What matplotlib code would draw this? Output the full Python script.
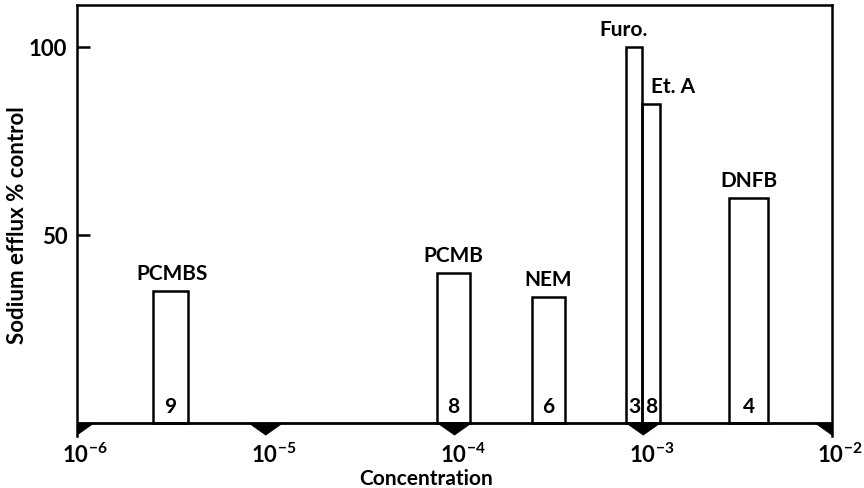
import numpy as np
import matplotlib
matplotlib.use("Agg")
import matplotlib.pyplot as plt
from matplotlib.patches import Polygon
from matplotlib.transforms import ScaledTranslation

plt.rcParams['font.family'] = ['Lato', 'DejaVu Sans']
plt.rcParams['font.weight'] = 'bold'
plt.rcParams['mathtext.fontset'] = 'custom'
plt.rcParams['mathtext.rm'] = 'Lato:bold'
plt.rcParams['mathtext.it'] = 'Lato:italic:bold'
plt.rcParams['mathtext.bf'] = 'Lato:bold'

# inhibitors, concentration range of each bar (M), efflux % of control, n
drugs = ['PCMBS', 'PCMB', 'NEM', 'Furo.', 'Et. A', 'DNFB']
conc_low = [2.52e-6, 8.1e-5, 2.56e-4, 8.1e-4, 0.985e-3, 2.85e-3]
conc_high = [3.85e-6, 1.21e-4, 3.85e-4, 0.985e-3, 1.22e-3, 4.6e-3]
efflux = [35, 40, 33.5, 100, 85, 60]
n_obs = [9, 8, 6, 3, 8, 4]
decades = [-6, -5, -4, -3, -2]

fig = plt.figure(figsize=(8.64, 4.88), dpi=100)
ax = fig.add_axes([77/864, 1 - 435.5/488, (832 - 77)/864, (435.5 - 5)/488])

lw = 1.8
low = np.array(conc_low)
high = np.array(conc_high)
ax.bar(low, efflux, width=high - low, align='edge', fill=False,
       edgecolor='black', linewidth=lw, zorder=3)

ax.set_xscale('log')
ax.set_xlim(1e-6, 1e-2)
ax.set_ylim(-3.3, 111.2)

# baseline with triangular decade markers
ax.axhline(0, color='black', lw=2, zorder=4)
hw = 0.09
for d in decades:
    tri = Polygon([(10**(d - hw), 0), (10**(d + hw), 0), (10**d, -3.2)],
                  closed=True, facecolor='black', edgecolor='black', lw=0.5,
                  zorder=4)
    ax.add_patch(tri)

for s in ['left', 'right', 'top']:
    ax.spines[s].set_linewidth(lw)
ax.spines['bottom'].set_visible(False)

ax.set_yticks([50, 100])
ax.set_yticklabels(['50', '100'])
ax.tick_params(axis='y', direction='in', length=9, width=1.8, pad=7,
               labelsize=16)
ax.tick_params(axis='x', which='both', length=0, pad=5, labelsize=16)
ax.xaxis.set_minor_locator(matplotlib.ticker.NullLocator())
ax.set_xticks([10.0**d for d in decades])
ax.set_xticklabels([r'$\mathbf{10^{%d}}$' % d for d in decades])
for lab in ax.get_xticklabels():
    lab.set_transform(lab.get_transform() + ScaledTranslation(0.08, 0, fig.dpi_scale_trans))

fig.text(18/864, 1 - 225/488, 'Sodium efflux % control', fontsize=16,
         rotation=90, ha='center', va='center')
fig.text(426/864, 1 - 485/488, 'Concentration', fontsize=15, ha='center')

label_dx = {'Furo.': -10, 'Et. A': 22, 'PCMBS': 2}
for name, lo, hi, h, n in zip(drugs, conc_low, conc_high, efflux, n_obs):
    xc = np.sqrt(lo * hi)
    ax.annotate(name, (xc, h), xytext=(label_dx.get(name, 0), 7),
                textcoords='offset pixels', ha='center', va='bottom',
                fontsize=15)
    ax.annotate(str(n), (xc, 0), xytext=(0, 6), textcoords='offset pixels',
                ha='center', va='bottom', fontsize=15)

fig.savefig('out.png', dpi=100)
